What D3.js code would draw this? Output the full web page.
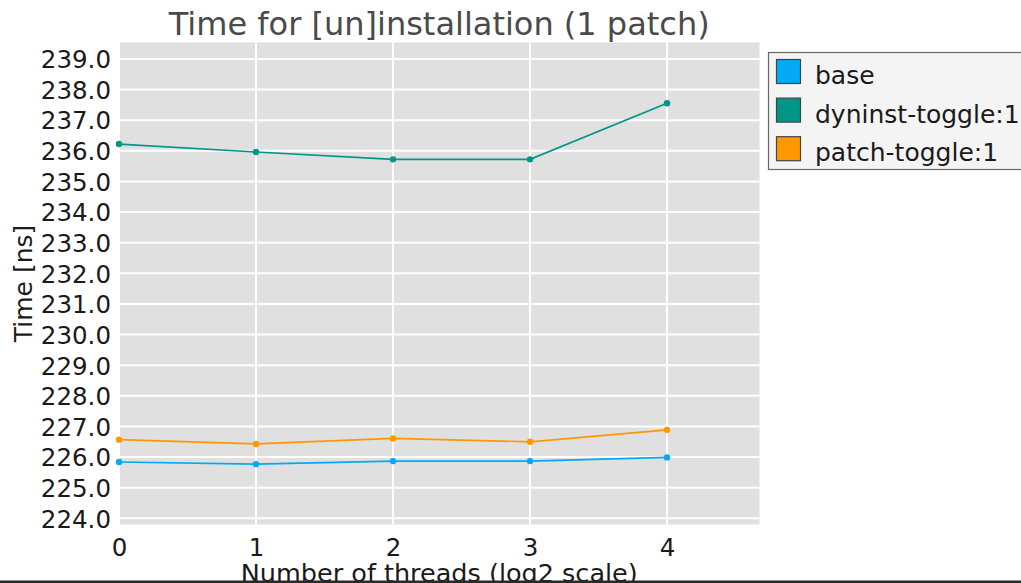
<!DOCTYPE html>
<html>
<head>
<meta charset="utf-8">
<script src="https://cdn.jsdelivr.net/npm/d3@7"></script>
<style>
  html, body { margin: 0; padding: 0; background: #fff; }
  svg { display: block; font-family: "DejaVu Sans", sans-serif; }
</style>
</head>
<body>
<svg id="chart" width="1021" height="583"></svg>
<script>
// ---- data ----
const threadsLog2 = [0, 1, 2, 3, 4];
const seriesNames = ["base", "dyninst-toggle:1", "patch-toggle:1"];
const baseValues = [225.84, 225.77, 225.87, 225.87, 225.99];
const dyninstValues = [236.22, 235.96, 235.72, 235.72, 237.55];
const patchValues = [226.57, 226.43, 226.61, 226.50, 226.89];
const yTicks = [224, 225, 226, 227, 228, 229, 230, 231, 232, 233, 234, 235, 236, 237, 238, 239];
const xTicks = [0, 1, 2, 3, 4];
const colors = ["#03a9f4", "#009688", "#ff9800"];

const series = [baseValues, dyninstValues, patchValues].map((vals, i) => ({
  name: seriesNames[i], color: colors[i],
  points: threadsLog2.map((x, j) => ({ x, y: vals[j] }))
}));

// ---- layout ----
const svg = d3.select("#chart");
const plot = { left: 119, right: 759.5, top: 42.5, bottom: 524.5 };

const x = d3.scaleLinear().domain([0, 4.675]).range([plot.left, plot.right]);
const y = d3.scaleLinear().domain([223.8, 239.535]).range([plot.bottom, plot.top]);

// background
svg.append("rect")
  .attr("x", plot.left).attr("y", plot.top)
  .attr("width", plot.right - plot.left).attr("height", plot.bottom - plot.top)
  .attr("fill", "#e0e0e0");

const g = svg.append("g");

// grid
g.selectAll(".hgrid").data(yTicks).join("line")
  .attr("x1", plot.left).attr("x2", plot.right)
  .attr("y1", d => y(d)).attr("y2", d => y(d))
  .attr("stroke", "#ffffff").attr("stroke-width", 2);
g.selectAll(".vgrid").data(xTicks).join("line")
  .attr("y1", plot.top).attr("y2", plot.bottom)
  .attr("x1", d => x(d)).attr("x2", d => x(d))
  .attr("stroke", "#ffffff").attr("stroke-width", 2);

// axes (labels only)
const yAxis = d3.axisLeft(y).tickValues(yTicks).tickFormat(d3.format(".1f")).tickSize(0).tickPadding(8);
const yg = svg.append("g").attr("transform", `translate(${plot.left},0)`).call(yAxis);
yg.select(".domain").remove();
yg.selectAll("text").attr("font-size", "24.5px").attr("fill", "#1a1a1a")
  .attr("font-family", "DejaVu Sans").attr("dy", "0.36em");

const xAxis = d3.axisBottom(x).tickValues(xTicks).tickFormat(d3.format("d")).tickSize(0).tickPadding(14);
const xg = svg.append("g").attr("transform", `translate(0,${plot.bottom})`).call(xAxis);
xg.select(".domain").remove();
xg.selectAll("text").attr("font-size", "24.5px").attr("fill", "#1a1a1a")
  .attr("font-family", "DejaVu Sans");

// lines and points
const line = d3.line().x(d => x(d.x)).y(d => y(d.y));
series.forEach(s => {
  svg.append("path").datum(s.points)
    .attr("d", line).attr("fill", "none")
    .attr("stroke", s.color).attr("stroke-width", 1.7);
  svg.selectAll(null).data(s.points).join("circle")
    .attr("cx", d => x(d.x)).attr("cy", d => y(d.y)).attr("r", 3.2)
    .attr("fill", s.color);
});

// title
svg.append("text")
  .attr("x", (plot.left + plot.right) / 2).attr("y", 35)
  .attr("text-anchor", "middle").attr("font-size", "32px").attr("fill", "#4a4a4a")
  .text("Time for [un]installation (1 patch)");

// axis titles
svg.append("text")
  .attr("transform", `translate(32,${(plot.top + plot.bottom) / 2}) rotate(-90)`)
  .attr("text-anchor", "middle").attr("font-size", "25px").attr("fill", "#1a1a1a")
  .text("Time [ns]");
svg.append("text")
  .attr("x", (plot.left + plot.right) / 2).attr("y", 582)
  .attr("text-anchor", "middle").attr("font-size", "25.5px").attr("fill", "#1a1a1a")
  .text("Number of threads (log2 scale)");

// bottom frame line
svg.append("rect").attr("x", 0).attr("y", 580.5).attr("width", 1021).attr("height", 2.5).attr("fill", "#2a2a2a");

// legend
const lg = svg.append("g");
lg.append("rect").attr("x", 768.5).attr("y", 52.5).attr("width", 260).attr("height", 117)
  .attr("fill", "#f4f4f4").attr("stroke", "#666").attr("stroke-width", 1.2);
series.forEach((s, i) => {
  const yy = 59.5 + i * 38.6;
  lg.append("rect").attr("x", 776.5).attr("y", yy).attr("width", 24).attr("height", 24)
    .attr("fill", s.color).attr("stroke", "#444").attr("stroke-width", 1.2);
  lg.append("text").attr("x", 815).attr("y", yy + 24.5)
    .attr("font-size", "25px").attr("fill", "#1a1a1a").text(s.name);
});
</script>
</body>
</html>
